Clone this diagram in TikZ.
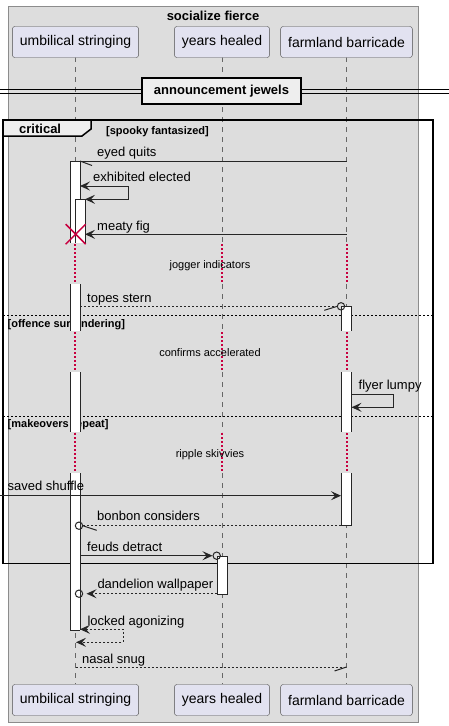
\documentclass[tikz,border=0pt]{standalone}
\usepackage{fontspec}
\setmainfont{Liberation Sans}
\usepackage{xcolor}
\usepackage{tikz}
\usetikzlibrary{
	arrows.meta    % frecce piene dei messaggi
}

\definecolor{boxgrey}{HTML}{DDDDDD}
\definecolor{partfill}{HTML}{E2E2F0}
\definecolor{tabfill}{HTML}{EEEEEE}
\definecolor{delayred}{HTML}{C8003F}

\begin{document}
\begin{tikzpicture}[
	x=1pt, y=-1pt,
	>={Stealth[length=10pt, width=9pt, inset=4pt]},
	participant_box/.style={draw=black!70, fill=partfill, rounded corners=2.5pt, minimum height=31pt, inner xsep=7.5pt, font=\fontsize{14}{16}\selectfont},
	msg_text/.style={anchor=base west, inner sep=0pt, font=\fontsize{13}{15}\selectfont},
	delay_text/.style={anchor=base, inner sep=0pt, font=\fontsize{11}{13}\selectfont},
	group_text/.style={anchor=base west, inner sep=0pt, font=\bfseries\fontsize{11}{13}\selectfont},
	life_line/.style={draw=black!60, line width=0.8pt, dash pattern=on 5pt off 5pt},
	delay_dot/.style={fill=delayred},
	act_line/.style={draw=black!85, line width=1pt},
	msg/.style={line width=1pt, draw=black!85},
	reply/.style={msg, dash pattern=on 2pt off 2pt},
	separator/.style={line width=0.8pt, dash pattern=on 2pt off 2pt},
	destroy/.style={draw=delayred, line width=1.5pt}
	]
	
	\useasboundingbox (0,0) rectangle (449,726);
	
	% --- Ascisse delle linee di vita ---
	\def\xU{75.5}
	\def\xY{222}
	\def\xF{346.5}
	
	% --- Box grigio ---
	\draw[fill=boxgrey, draw=black!45] (8,6) rectangle (418,722);
	\node[font=\bfseries\fontsize{13}{15}\selectfont, anchor=base, inner sep=0pt] (boxTitle) at (213,20) {socialize fierce};
	
	% --- Linee di vita (tratteggiate) ---
	\foreach \x in {\xU,\xY,\xF}{
		\foreach \a/\b in {57/243, 284/331, 372/432, 473/684}
		\draw[life_line] (\x,\a) -- (\x,\b);
	}
	
	% --- Partecipanti ---
	\node[participant_box] (umbTop) at (\xU,42) {umbilical stringing};
	\node[participant_box] (yeaTop) at (\xY,42) {years healed};
	\node[participant_box] (farTop) at (\xF,42) {farmland barricade};
	\node[participant_box] (umbBot) at (\xU,700) {umbilical stringing};
	\node[participant_box] (yeaBot) at (\xY,700) {years healed};
	\node[participant_box] (farBot) at (\xF,700) {farmland barricade};
	
	% --- Divisore ---
	\draw[line width=1pt] (0,89) -- (449,89);
	\draw[line width=1pt] (0,93.3) -- (449,93.3);
	\node[draw, line width=1.8pt, fill=tabfill, minimum width=159pt, minimum height=26pt, inner sep=0pt, font=\bfseries\fontsize{13}{15}\selectfont] (divider) at (221.5,91) {announcement jewels};
	
	% --- Frame critical ---
	\draw[line width=1.5pt] (3,120) rectangle (433,563.3);
	\draw[line width=1.5pt, fill=tabfill] (3,120) -- (91,120) -- (91,129) -- (82,136) -- (3,136) -- cycle;
	\node[anchor=base west, inner sep=0pt, font=\bfseries\fontsize{13}{15}\selectfont] (critLabel) at (19,133.5) {critical};
	\node[group_text] (critGuard) at (106,134) {[spooky fantasized]};
	\draw[separator] (3,315.7) -- (433,315.7);
	\node[group_text] (elseOne) at (7.5,327) {[offence surrendering]};
	\draw[separator] (3,416) -- (433,416);
	\node[group_text] (elseTwo) at (7.5,427.5) {[makeovers repeat]};
	
	% --- Attivazioni ---
	% umbilical stringing (spezzata dai ritardi)
	\foreach \a/\b in {161/243, 284/331, 372/432, 473/630}{
		\fill[white] (70,\a) rectangle (80,\b);
		\draw[act_line] (70,\a) -- (70,\b) (80,\a) -- (80,\b);
	}
	\draw[act_line] (70,161) -- (80,161);
	\draw[act_line] (70,630) -- (80,630);
	% attivazione annidata
	\fill[white] (75,199) rectangle (85,243);
	\draw[act_line] (75,243) -- (75,199) -- (85,199) -- (85,243);
	% farmland barricade
	\foreach \a/\b in {306/331, 372/432, 473/525}{
		\fill[white] (341,\a) rectangle (351.5,\b);
		\draw[act_line] (341,\a) -- (341,\b) (351.5,\a) -- (351.5,\b);
	}
	\draw[act_line] (341,306) -- (351.5,306);
	\draw[act_line] (341,525) -- (351.5,525);
	% years healed
	\draw[act_line, fill=white] (217,556) rectangle (227.5,594);
	
	% --- Ritardi (puntini rossi) ---
	\foreach \x in {75,222,346.5}{
		\foreach \a in {243, 331, 432}
		\foreach \k in {0,...,9}
		\fill[delay_dot] (\x-1,\a+1+4*\k) rectangle (\x+1,\a+3+4*\k);
	}
	
	% --- Messaggi ---
	% eyed quits
	\coordinate (eyedS) at (\xF,161);
	\coordinate (eyedE) at (80,161);
	\draw[msg] (eyedS) -- (eyedE);
	\draw[msg] (eyedE) -- ++(12,4.5);
	\node[msg_text] (eyedL) at (97,156.5) {eyed quits};
	
	% exhibited elected
	\coordinate (exhS) at (80,186);
	\coordinate (exhE) at (85,199.3);
	\draw[msg, <->] (exhS) -- (128,186) -- (128,199.3) -- (exhE);
	\node[msg_text] (exhL) at (93,181.5) {exhibited elected};
	
	% meaty fig
	\coordinate (meatyS) at (\xF,234.3);
	\coordinate (meatyE) at (85,234.3);
	\draw[msg, ->] (meatyS) -- (meatyE);
	\node[msg_text] (meatyL) at (97,230) {meaty fig};
	\coordinate (umbEnd) at (75.7,234.2);
	\draw[destroy] (umbEnd) ++(-10,-10) -- ++(20,20) ++(0,-20) -- ++(-20,20);
	
	\node[delay_text] (delayOne) at (210,268) {jogger indicators};
	
	% topes stern
	\coordinate (topesS) at (80,306.3);
	\coordinate (topesE) at (337.3,306.3);
	\draw[reply] (topesS) -- (topesE);
	\draw[msg] (topesE) -- ++(-13,4);
	\draw[msg] (341,306.3) circle (3.7);
	\node[msg_text] (topesL) at (87,302.3) {topes stern};
	
	\node[delay_text] (delayTwo) at (210,356) {confirms accelerated};
	
	% flyer lumpy
	\coordinate (flyerS) at (351.5,394.3);
	\coordinate (flyerE) at (351.5,407.3);
	\draw[msg, ->] (flyerS) -- (393,394.3) -- (393,407.3) -- (flyerE);
	\node[msg_text] (flyerL) at (358.5,389.7) {flyer lumpy};
	
	\node[delay_text] (delayThree) at (210,457) {ripple skivvies};
	
	% saved shuffle
	\coordinate (savedS) at (0,495.7);
	\coordinate (savedE) at (341,495.7);
	\draw[msg, ->] (savedS) -- (savedE);
	\node[msg_text] (savedL) at (7.5,490.7) {saved shuffle};
	
	% bonbon considers
	\coordinate (bonS) at (341,525.7);
	\coordinate (bonE) at (82.7,525.7);
	\draw[reply] (bonS) -- (bonE);
	\draw[msg] (bonE) -- ++(14,4.6);
	\draw[msg] (79,525.7) circle (3.7);
	\node[msg_text] (bonL) at (97,520.3) {bonbon considers};
	
	% feuds detract
	\coordinate (feudS) at (80,555.7);
	\coordinate (feudE) at (212.5,555.7);
	\draw[msg, ->] (feudS) -- (feudE);
	\draw[msg] (216.7,555.7) circle (3.7);
	\node[msg_text] (feudL) at (87,551) {feuds detract};
	
	% dandelion wallpaper
	\coordinate (dandS) at (217,593.7);
	\coordinate (dandE) at (86.5,593.7);
	\draw[reply, ->] (dandS) -- (dandE);
	\draw[msg] (79,593.7) circle (3.7);
	\node[msg_text] (dandL) at (97.3,588.3) {dandelion wallpaper};
	
	% locked agonizing
	\coordinate (lockS) at (80,629.3);
	\coordinate (lockE) at (76,642.3);
	\draw[reply, <->] (lockS) -- (123,629.3) -- (123,642.3) -- (lockE);
	\node[msg_text] (lockL) at (87.3,625) {locked agonizing};
	
	% nasal snug
	\coordinate (nasalS) at (\xU,667);
	\coordinate (nasalE) at (\xF,667);
	\draw[reply] (nasalS) -- (nasalE);
	\draw[msg] (nasalE) -- ++(-12,4);
	\node[msg_text] (nasalL) at (82,663) {nasal snug};
	
\end{tikzpicture}
\end{document}
